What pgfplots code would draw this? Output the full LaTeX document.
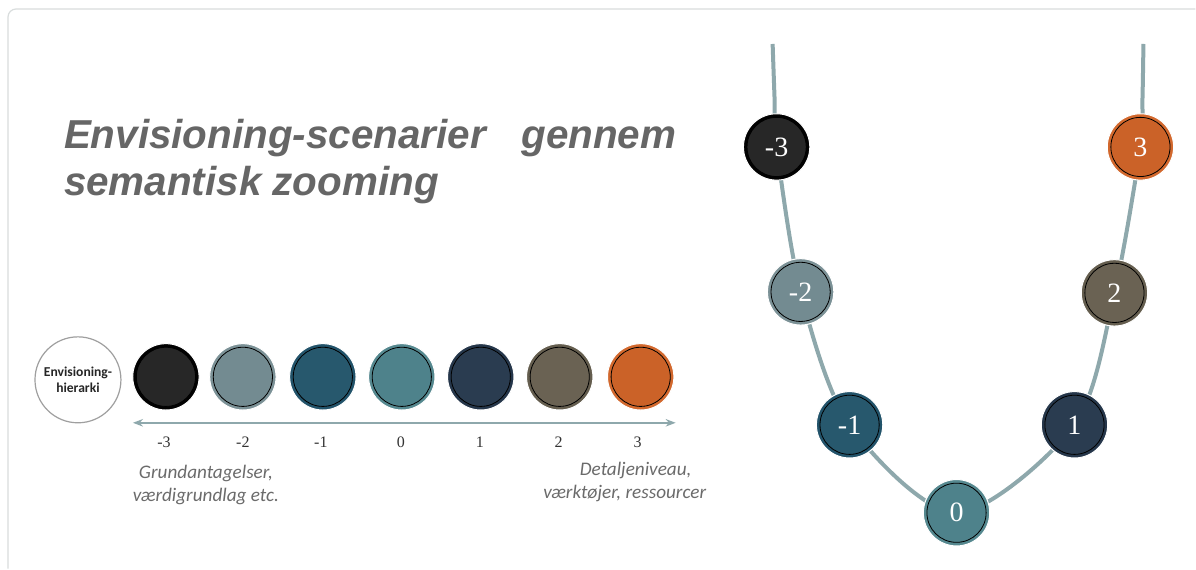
\documentclass[border=0pt]{standalone}
\usepackage{fontspec}
\setmainfont{Liberation Serif}
\newfontfamily\arialf{Liberation Sans}
\newfontfamily\calib{Carlito}
\usepackage{pgfplots}
\pgfplotsset{compat=1.18}
\usetikzlibrary{arrows.meta}

\definecolor{titlegray}{HTML}{666666}
\definecolor{capgray}{HTML}{6B6B6B}
\definecolor{linec}{HTML}{8EA8AC}
\definecolor{framec}{HTML}{D9DDDD}
% rim / body colours of the balls
\definecolor{rm3}{HTML}{020202}\definecolor{bm3}{HTML}{272727}
\definecolor{rm2}{HTML}{7B9196}\definecolor{bm2}{HTML}{738B91}
\definecolor{rm1}{HTML}{22536A}\definecolor{bm1}{HTML}{27586D}
\definecolor{r0}{HTML}{55888F}\definecolor{b0}{HTML}{4E828B}
\definecolor{r1}{HTML}{25364A}\definecolor{b1}{HTML}{2A3C50}
\definecolor{r2}{HTML}{645D4E}\definecolor{b2}{HTML}{6A6253}
\definecolor{r3}{HTML}{D2682D}\definecolor{b3}{HTML}{CB6228}

% one ball: x, y, rim colour, body colour
\newcommand{\ball}[4]{%
  \addplot[only marks, mark=*, mark size=16.6pt,
    mark options={draw=white, line width=0.5pt, fill=#3}] coordinates {(#1,#2)};
  \addplot[only marks, mark=*, mark size=14.8pt,
    mark options={draw=none, fill=#4}] coordinates {(#1,#2)};
}

\begin{document}
\begin{tikzpicture}
\begin{axis}[
    scale only axis,
    width=598pt, height=284.5pt,
    xmin=0, xmax=1196, ymin=0, ymax=569,
    y dir=reverse,
    hide axis,
    clip=false,
]
% background and slide frame
\addplot[fill=white, draw=none] coordinates {(0,0)(1196,0)(1196,569)(0,569)} -- cycle;
\addplot[draw=framec, line width=0.6pt, rounded corners=4pt]
    coordinates {(8,569)(8,9)(1196,9)};

% title
\node[anchor=base west, text=titlegray, font=\arialf\bfseries\itshape\fontsize{20.2}{23.5}\selectfont]
    at (axis cs:57,149) {Envisioning-scenarier\hspace{0.6em} gennem};
\node[anchor=base west, text=titlegray, font=\arialf\bfseries\itshape\fontsize{20.2}{23.5}\selectfont]
    at (axis cs:57,196) {semantisk zooming};

% hierarchy row
\addplot[only marks, mark=*, mark size=21.5pt,
    mark options={fill=white, draw=gray!75, line width=0.6pt},
    point meta=explicit symbolic, nodes near coords,
    every node near coord/.append style={anchor=center, align=center, text=black!85,
      font=\calib\bfseries\fontsize{6.8}{7.6}\selectfont}]
    coordinates {(78,380)[{Envisioning-\\hierarki}]};

\ball{166}{377}{rm3}{bm3}
\ball{243}{377}{rm2}{bm2}
\ball{323}{377}{rm1}{bm1}
\ball{402}{377}{r0}{b0}
\ball{481}{377}{r1}{b1}
\ball{560}{377}{r2}{b2}
\ball{641}{377}{r3}{b3}

\addplot[linec, line width=1pt, {Stealth[length=5pt]}-{Stealth[length=5pt]}]
    coordinates {(133,423)(676,423)};

\addplot[draw=none, point meta=explicit symbolic, nodes near coords,
    every node near coord/.append style={anchor=center, text=black!80,
      font=\fontsize{8}{9}\selectfont}]
    coordinates {(164,442)[-3] (243,442)[-2] (321,442)[-1] (401,442)[0]
                 (480,442)[1] (559,442)[2] (638,442)[3]};

\node[align=center, text=capgray, font=\calib\itshape\fontsize{9.6}{11.5}\selectfont]
    at (axis cs:206,485) {Grundantagelser,\\værdigrundlag etc.};
\node[text=capgray, font=\calib\itshape\fontsize{9.6}{11.5}\selectfont]
    at (axis cs:636,471) {Detaljeniveau,};
\node[text=capgray, font=\calib\itshape\fontsize{9.6}{11.5}\selectfont]
    at (axis cs:625,494) {værktøjer, ressourcer};

% zoom curve
\addplot[linec, line width=2pt, smooth, tension=0.5]
    coordinates {(773,44)(775,100)(777,147)(801,292)(850,425)(957,513)
                 (1075,425)(1115,293)(1141,147)(1143,100)(1144,44)};

\ball{777}{147}{rm3}{bm3}
\ball{801}{292}{rm2}{bm2}
\ball{850}{425}{rm1}{bm1}
\ball{957}{513}{r0}{b0}
\ball{1075}{425}{r1}{b1}
\ball{1115}{293}{r2}{b2}
\ball{1141}{147}{r3}{b3}

\addplot[draw=none, point meta=explicit symbolic, nodes near coords,
    every node near coord/.append style={anchor=center, text=white,
      font=\fontsize{14}{15}\selectfont}]
    coordinates {(777,147)[-3] (801,292)[-2] (850,425)[-1] (957,513)[0]
                 (1075,425)[1] (1115,293)[2] (1141,147)[3]};
\end{axis}
\end{tikzpicture}
\end{document}
